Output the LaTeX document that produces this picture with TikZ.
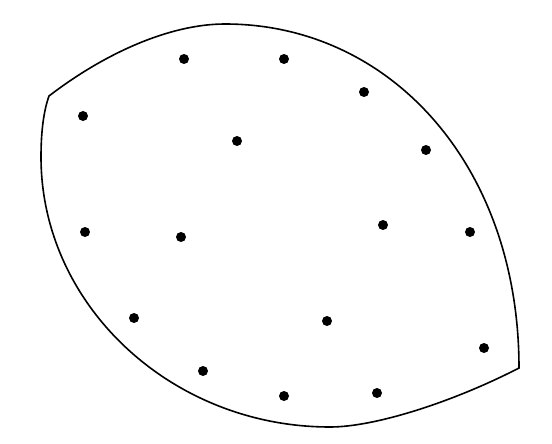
\documentclass[tikz,border=0pt]{standalone}
\begin{document}
\begin{tikzpicture}[x=1pt,y=-1pt,
  dot/.style={circle,fill=black,inner sep=0pt,minimum size=10pt},
  outline/.style={line width=1.6pt,line join=miter}]
\useasboundingbox (0,0) rectangle (552,444);
% leaf-shaped outline: upper arc and lower arc meeting at two corners
\coordinate (tl) at (49,96);
\coordinate (br) at (519,368);
\draw[outline]
  (tl) .. controls (105,53) and (170,24) .. (225,24)
       .. controls (390,24) and (519,165) .. (br)
       .. controls (453,402) and (375,427) .. (330,427)
       .. controls (171,427) and (41,305) .. (41,157)
       .. controls (41,130) and (44,110) .. (tl) -- cycle;
% points
\node[dot] (d1)  at (184,59) {};
\node[dot] (d2)  at (284,59) {};
\node[dot] (d3)  at (364,92) {};
\node[dot] (d4)  at (83,116) {};
\node[dot] (d5)  at (237,141) {};
\node[dot] (d6)  at (426,150) {};
\node[dot] (d7)  at (85,232) {};
\node[dot] (d8)  at (181,237) {};
\node[dot] (d9)  at (383,225) {};
\node[dot] (d10) at (470,232) {};
\node[dot] (d11) at (134,318) {};
\node[dot] (d12) at (327,321) {};
\node[dot] (d13) at (484,348) {};
\node[dot] (d14) at (203,371) {};
\node[dot] (d15) at (284,396) {};
\node[dot] (d16) at (377,393) {};
\end{tikzpicture}
\end{document}
